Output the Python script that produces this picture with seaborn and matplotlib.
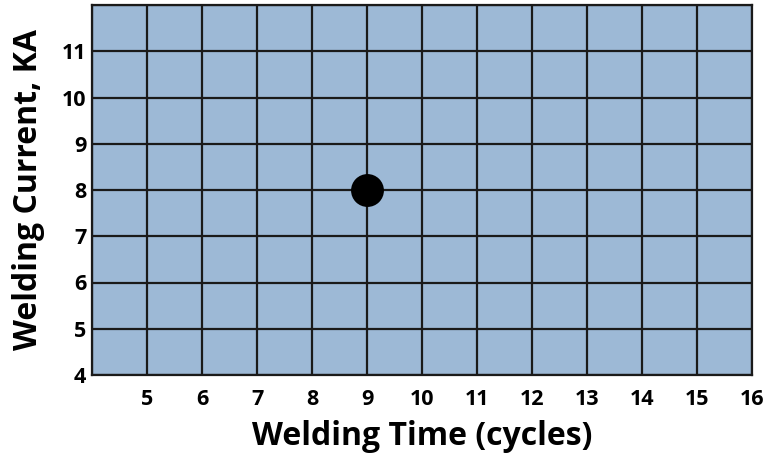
import numpy as np
import pandas as pd
import matplotlib
matplotlib.use("Agg")
import matplotlib.pyplot as plt
import seaborn as sns

# data
welding_time = [9]
welding_current = [8]
x_ticks = list(range(5, 17))
y_ticks = list(range(4, 12))

df = pd.DataFrame({"time": welding_time, "current": welding_current})

sns.set_style("white")
plt.rcParams['font.family'] = ['Open Sans', 'DejaVu Sans']

fig = plt.figure(figsize=(7.64, 4.55), dpi=100)
ax = fig.add_axes([92 / 764, 1 - 375 / 455, 660 / 764, 370 / 455])
ax.set_facecolor("#9db9d6")

sns.scatterplot(data=df, x="time", y="current", s=560, color="black",
                edgecolor="black", linewidth=0, zorder=5, ax=ax)

ax.set_xlim(4, 16)
ax.set_ylim(4, 12)
ax.set_xticks(x_ticks)
ax.set_yticks(y_ticks)
ax.set_xticks([4], minor=True)
ax.set_yticks([12], minor=True)
ax.grid(True, which="both", color="#1a1a1a", linewidth=1.6)
ax.set_axisbelow(False)
ax.tick_params(which="both", length=0, labelcolor="black")
ax.tick_params(axis="x", pad=10)
ax.tick_params(axis="y", pad=4)
for lbl in ax.get_xticklabels() + ax.get_yticklabels():
    lbl.set_fontsize(15.5)
    lbl.set_fontweight("bold")

for s in ax.spines.values():
    s.set_color("#1a1a1a")
    s.set_linewidth(1.6)

ax.set_xlabel("Welding Time (cycles)", fontsize=23, fontweight="bold",
              color="black", labelpad=7)
ax.set_ylabel("Welding Current, KA", fontsize=23, fontweight="bold",
              color="black", labelpad=12)

fig.savefig("out.png", dpi=100)
